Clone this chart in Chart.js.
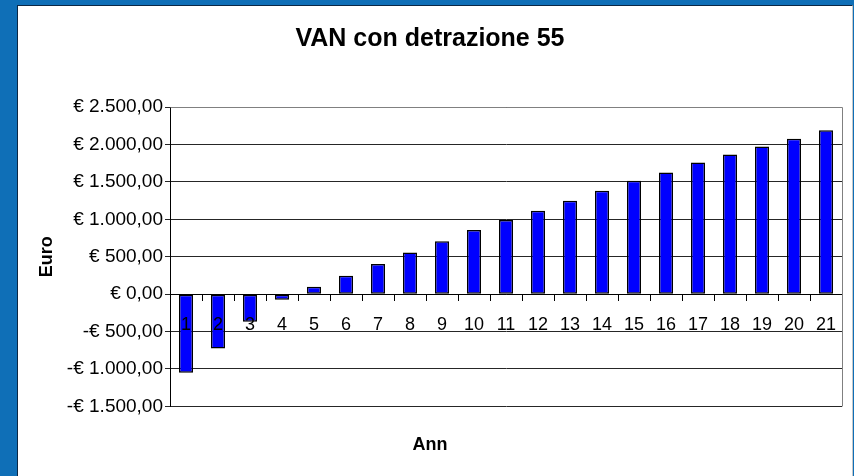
<!DOCTYPE html>
<html>
<head>
<meta charset="utf-8">
<script src="https://cdn.jsdelivr.net/npm/chart.js@4.4.1/dist/chart.umd.min.js"></script>
<style>
  body { margin: 0; background: #0f6fb7; width: 854px; height: 476px; overflow: hidden; }
  #frame {
    position: absolute; left: 17px; top: 5px; width: 834px; height: 470px;
    background: #fff;
    border-left: 1px solid #0b2744; border-top: 1px solid #0b2744; border-right: 1px solid #c8c8c8;
  }
  #wrap { position: relative; width: 834px; height: 470px; }
</style>
</head>
<body>
<div id="frame"><div id="wrap"><canvas id="vanChart"></canvas></div></div>
<script>
// anni e valori VAN
const years = ['1', '2', '3', '4', '5', '6', '7', '8', '9', '10', '11', '12', '13', '14', '15', '16', '17', '18', '19', '20', '21'];
const van = [-1050, -725, -370, -75, 100, 246, 402, 556, 708, 858, 991, 1115, 1248, 1380, 1514, 1625, 1758, 1865, 1971, 2077, 2188];
const yMin = -1500;
const yMax = 2500;
const yStep = 500;

const fontFamily = '"Liberation Sans", Arial, sans-serif';

function formatEuro(v) {
    const abs = Math.abs(v).toFixed(2).split('.');
    const intPart = abs[0].replace(/\B(?=(\d{3})+(?!\d))/g, '.');
    return (v < 0 ? '-' : '') + '€ ' + intPart + ',' + abs[1];
}

// bordo grigio dell'area del grafico (alto e destra)
const plotFrame = {
    id: 'plotFrame',
    beforeDatasetsDraw(chart) {
        const { ctx, chartArea } = chart;
        ctx.save();
        ctx.strokeStyle = '#808080';
        ctx.lineWidth = 1;
        ctx.beginPath();
        ctx.moveTo(Math.round(chartArea.left) + 0.5, Math.round(chartArea.top) + 0.5);
        ctx.lineTo(Math.round(chartArea.right) + 0.5, Math.round(chartArea.top) + 0.5);
        ctx.lineTo(Math.round(chartArea.right) + 0.5, Math.round(chartArea.bottom) + 0.5);
        ctx.stroke();
        ctx.restore();
    }
};

new Chart(document.getElementById('vanChart').getContext('2d'), {
    type: 'bar',
    data: {
        labels: years,
        datasets: [{
            label: 'VAN',
            data: van,
            backgroundColor: '#0000ff',
            borderColor: '#000000',
            borderWidth: 1.5,
            borderSkipped: false,
            barPercentage: 0.44,
            categoryPercentage: 1
        }]
    },
    options: {
        responsive: true,
        maintainAspectRatio: false,
        animation: false,
        layout: { padding: { left: 0, right: 10, top: 0, bottom: 0 } },
        plugins: {
            legend: { display: false },
            tooltip: { enabled: false },
            title: {
                display: true,
                text: 'VAN con detrazione 55',
                color: '#000',
                font: { family: fontFamily, size: 25, weight: 'bold' },
                padding: { top: 18, bottom: 53 }
            },
            subtitle: {
                display: true,
                position: 'bottom',
                text: 'Ann',
                color: '#000',
                font: { family: fontFamily, size: 18, weight: 'bold' },
                padding: { top: 28, bottom: 20 }
            }
        },
        scales: {
            x: {
                type: 'category',
                position: { y: 0 },
                offset: true,
                grid: { offset: true, drawOnChartArea: false, drawTicks: true, tickLength: 6, color: '#000' },
                border: { color: '#000', width: 1 },
                ticks: {
                    z: 1,
                    color: '#000',
                    font: { family: fontFamily, size: 18 },
                    padding: 14,
                    maxRotation: 0,
                    autoSkip: false
                }
            },
            y: {
                min: yMin,
                max: yMax,
                afterFit(scale) { scale.width = 152; },
                grid: { color: '#262626', tickLength: 5, drawTicks: true },
                border: { color: '#000', width: 1 },
                ticks: {
                    stepSize: yStep,
                    color: '#000',
                    padding: 2,
                    font: { family: fontFamily, size: 19 },
                    callback: value => formatEuro(value)
                },
                title: {
                    display: true,
                    text: 'Euro',
                    color: '#000',
                    font: { family: fontFamily, size: 18, weight: 'bold' },
                    padding: { top: 18, bottom: 0 }
                }
            }
        }
    },
    plugins: [plotFrame]
});
</script>
</body>
</html>
